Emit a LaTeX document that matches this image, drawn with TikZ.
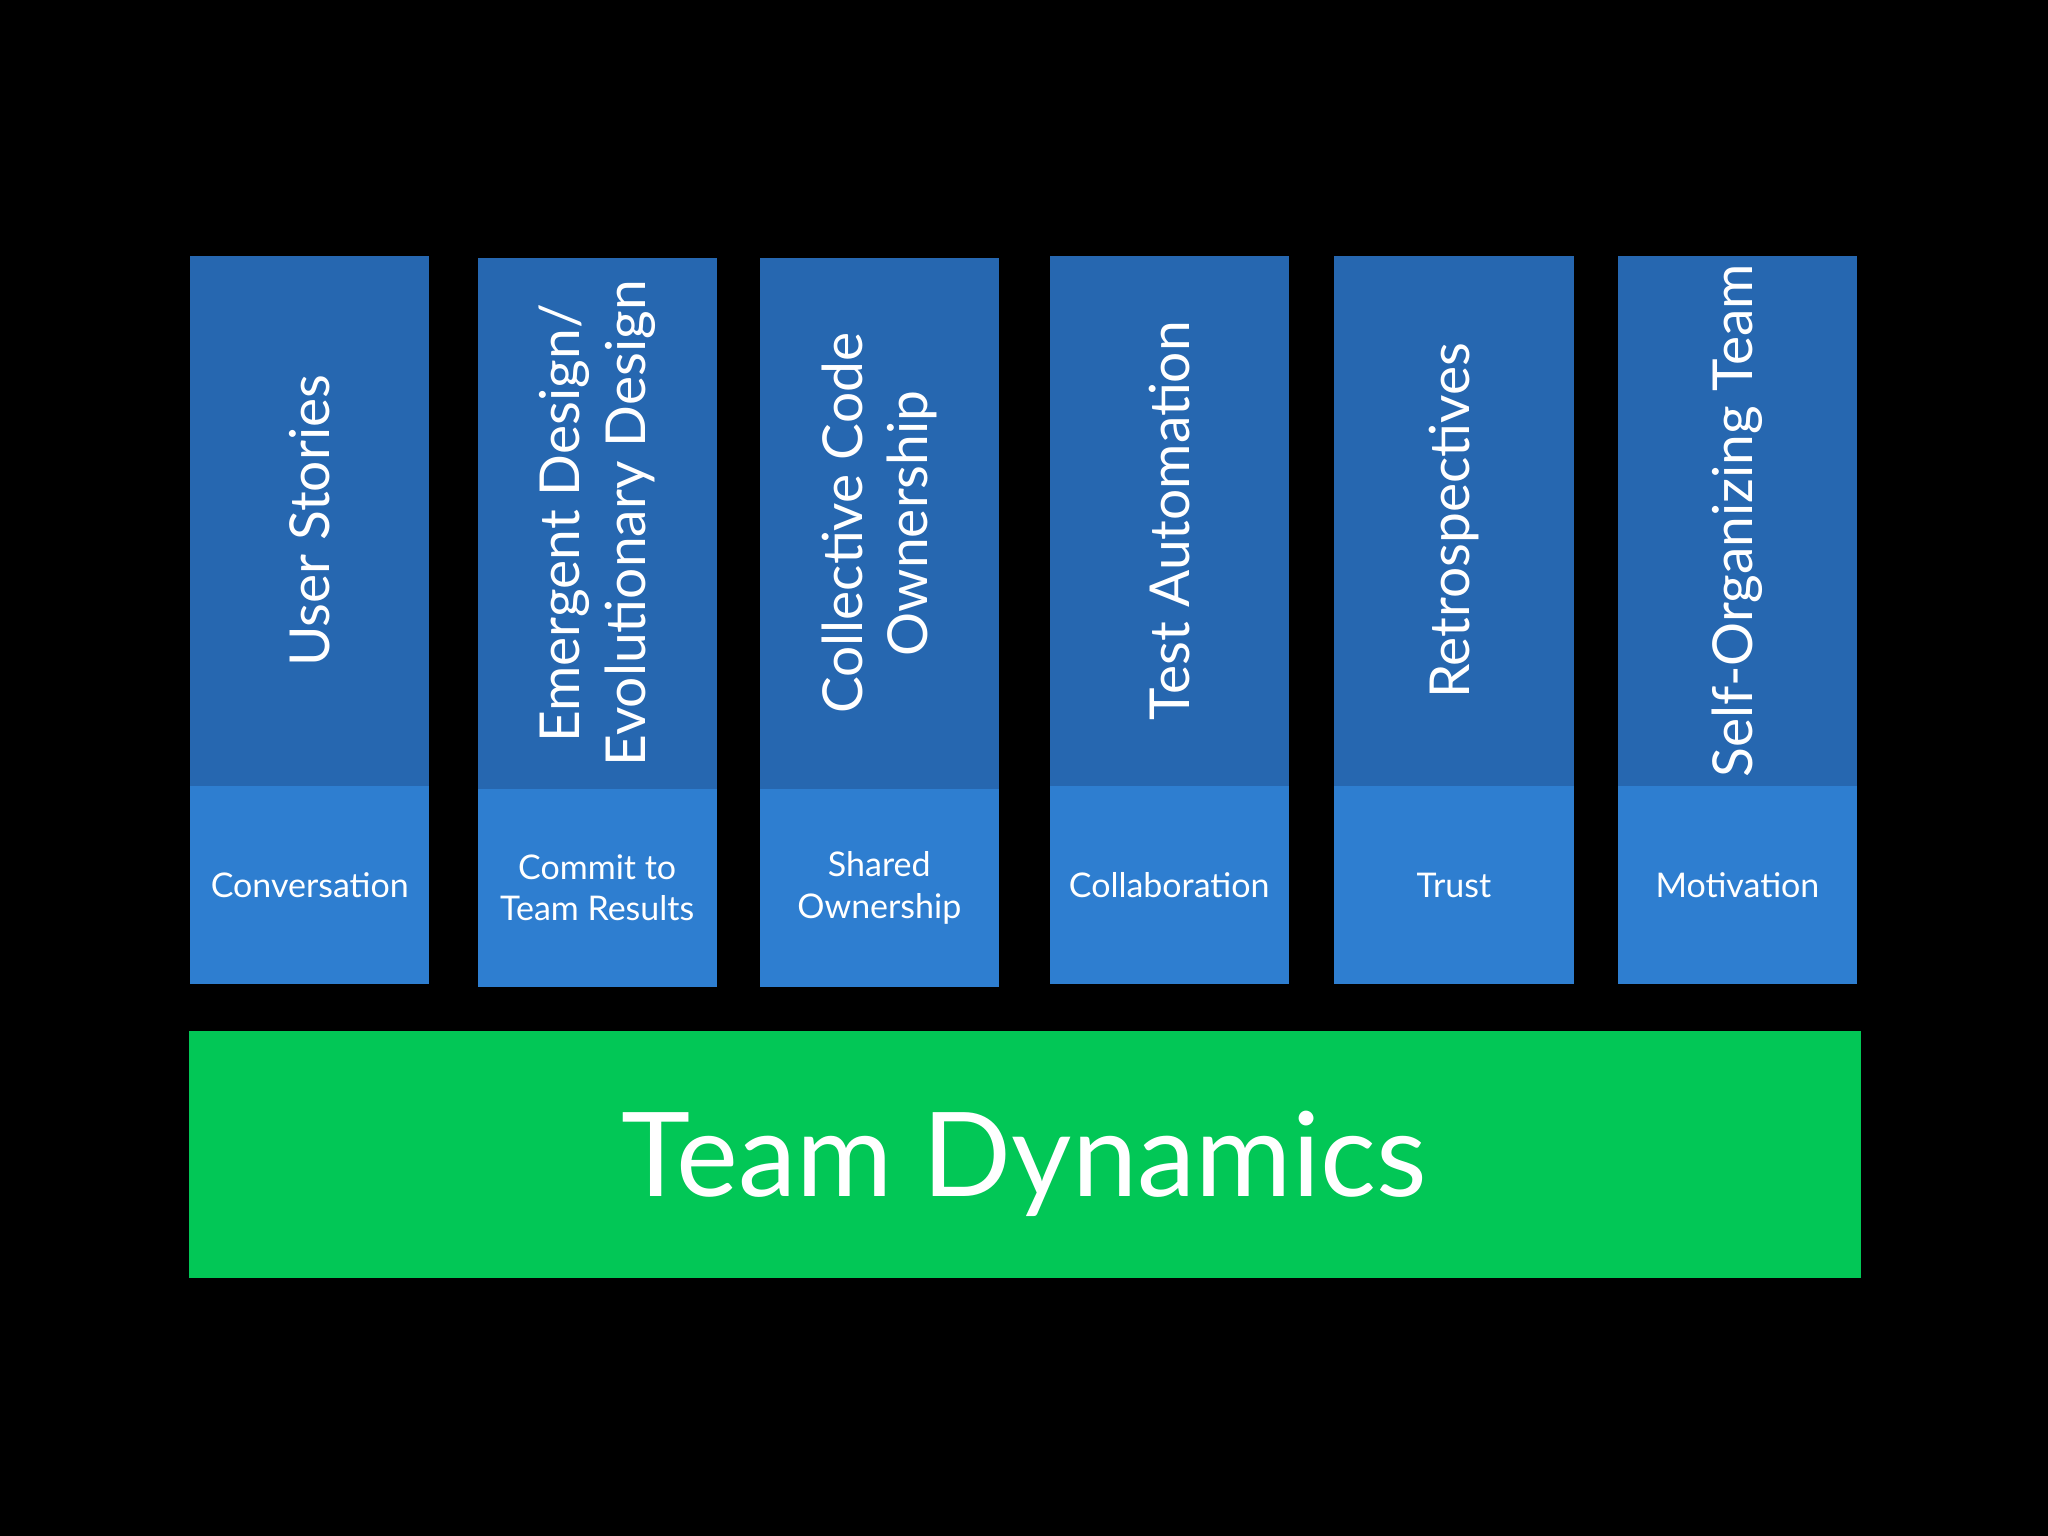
\documentclass[tikz,border=0pt]{standalone}
\usepackage{fontspec}
\setmainfont{Lato}
\definecolor{topblue}{RGB}{38,103,176}
\definecolor{botblue}{RGB}{46,126,208}
\definecolor{teamgreen}{RGB}{2,199,86}
\begin{document}
\begin{tikzpicture}[x=1cm,y=-1cm,
  topbox/.style={fill=topblue, minimum width=1.83cm, minimum height=4.06cm, inner sep=0pt, anchor=north west},
  botbox/.style={fill=botblue, minimum width=1.83cm, minimum height=1.52cm, inner sep=0pt, anchor=north west},
  toplabel/.style={text=white, rotate=90, font=\fontsize{12}{14.2}\selectfont, align=center, inner sep=0pt},
  botlabel/.style={text=white, font=\fontsize{7.4}{9.1}\selectfont, align=center, inner sep=0pt},
  baselabel/.style={text=white, font=\fontsize{25.5}{30}\selectfont, inner sep=0pt, anchor=base}]
\fill[black] (0,0) rectangle (15.68,11.76);
\useasboundingbox (0,0) rectangle (15.68,11.76);
% columns
\node[topbox] (c1) at (1.45,1.95) {};
\node[botbox] (b1) at (1.45,6.01) {};
\node[topbox] (c2) at (3.65,1.97) {};
\node[botbox] (b2) at (3.65,6.03) {};
\node[topbox] (c3) at (5.81,1.97) {};
\node[botbox] (b3) at (5.81,6.03) {};
\node[topbox] (c4) at (8.03,1.95) {};
\node[botbox] (b4) at (8.03,6.01) {};
\node[topbox] (c5) at (10.21,1.95) {};
\node[botbox] (b5) at (10.21,6.01) {};
\node[topbox] (c6) at (12.38,1.95) {};
\node[botbox] (b6) at (12.38,6.01) {};
% labels
\node[toplabel] (l1) at (c1.center) {User Stories};
\node[toplabel] (l2) at (c2.center) {Emergent Design/\\Evolutionary Design};
\node[toplabel] (l3) at (c3.center) {Collective Code\\Ownership};
\node[toplabel] (l4) at (c4.center) {Test Automation};
\node[toplabel] (l5) at (c5.center) {Retrospectives};
\node[toplabel] (l6) at (c6.center) {Self-Organizing Team};
\node[botlabel] (m1) at (b1.center) {Conversation};
\node[botlabel] (m2) at (b2.center) {Commit to\\Team Results};
\node[botlabel] (m3) at (b3.center) {Shared\\Ownership};
\node[botlabel] (m4) at (b4.center) {Collaboration};
\node[botlabel] (m5) at (b5.center) {Trust};
\node[botlabel] (m6) at (b6.center) {Motivation};
% base
\node[fill=teamgreen, minimum width=12.80cm, minimum height=1.89cm, inner sep=0pt, anchor=north west] (base) at (1.44,7.89) {};
\node[baselabel] (bl) at (7.84,9.16) {Team Dynamics};
\end{tikzpicture}
\end{document}
